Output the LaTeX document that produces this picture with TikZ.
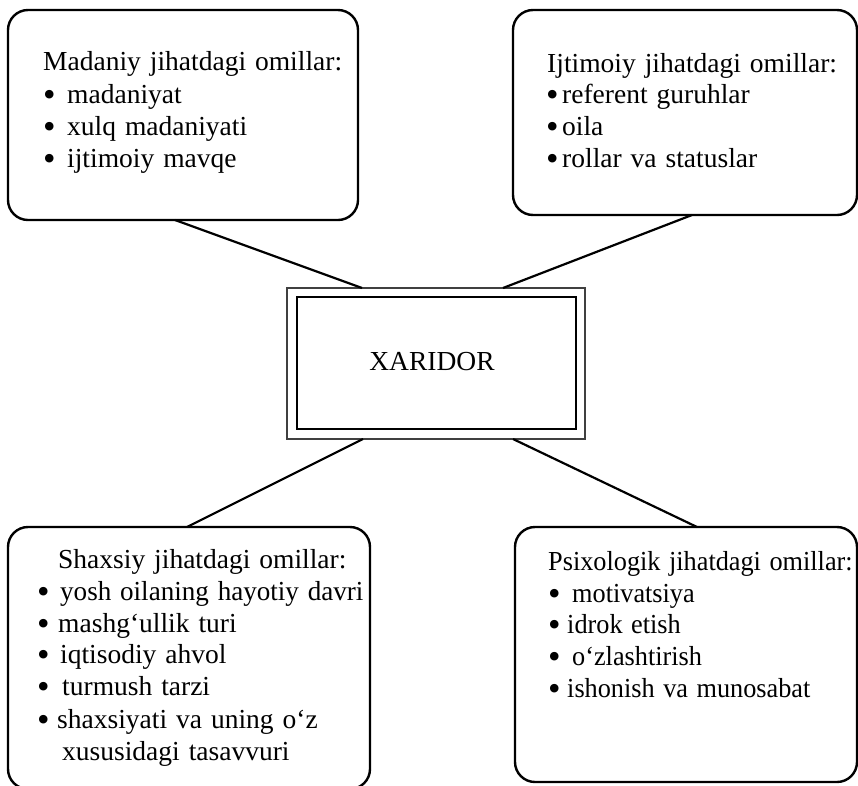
\documentclass[tikz,border=0pt]{standalone}
\usepackage{graphicx}
\usepackage{fontspec}
\setmainfont[WordSpace=1.3]{Liberation Serif}
\newcommand{\bul}[2]{\hspace*{#1}\makebox[#2][l]{\raisebox{-3.2pt}[12pt][0pt]{\fontsize{35.75}{36}\selectfont\textbullet}}}
\newcommand{\sq}[1]{\scalebox{0.955}[1]{#1}}
\begin{document}
\begin{tikzpicture}[x=1pt,y=-1pt,
  box/.style={draw,line width=2.4pt,rounded corners=20pt,anchor=north west,inner sep=0pt,outer sep=0pt},
  cbox/.style={draw,line width=1.3pt,anchor=north west,inner sep=0pt,outer sep=0pt},
  txt/.style={anchor=base west,inner sep=0pt,font=\fontsize{27.5}{33}\selectfont},
  conn/.style={line width=2.2pt}]
\useasboundingbox (0,0) rectangle (858,785);
% boxes
\node[box,minimum width=350pt,minimum height=210pt] (tl) at (8,10) {};
\node[box,minimum width=344pt,minimum height=205pt] (tr) at (513,10) {};
\node[box,minimum width=362pt,minimum height=262pt] (bl) at (8,527) {};
\node[box,minimum width=342pt,minimum height=255pt] (br) at (515,527) {};
\node[cbox,draw=black!75,minimum width=298pt,minimum height=151pt] (c) at (287,288) {};
\node[cbox,minimum width=279pt,minimum height=132pt] (ci) at (297,297) {};
\node[txt,anchor=base] (x) at (432,370) {XARIDOR};
% top-left text
\node[txt] (tl1) at (43,70) {Madaniy jihatdagi omillar:};
\node[txt] (tl2) at (43,103) {\bul{0pt}{24pt}madaniyat};
\node[txt] (tl3) at (43,135) {\bul{0pt}{24pt}xulq madaniyati};
\node[txt] (tl4) at (43,167) {\bul{0pt}{24pt}ijtimoiy mavqe};
% top-right text
\node[txt] (tr1) at (547,72) {Ijtimoiy jihatdagi omillar:};
\node[txt] (tr2) at (546,103) {\bul{0pt}{16pt}referent guruhlar};
\node[txt] (tr3) at (546,135) {\bul{0pt}{16pt}oila};
\node[txt] (tr4) at (546,167) {\bul{0pt}{16pt}rollar va statuslar};
% bottom-left text
\node[txt] (bl1) at (58,568) {Shaxsiy jihatdagi omillar:};
\node[txt] (bl2) at (37,600) {\bul{0pt}{23pt}\scalebox{0.985}[1]{yosh oilaning hayotiy davri}};
\node[txt] (bl3) at (37,632) {\bul{0pt}{21pt}mashg‘ullik turi};
\node[txt] (bl4) at (37,663) {\bul{0pt}{23pt}iqtisodiy ahvol};
\node[txt] (bl5) at (37,695) {\bul{0pt}{25pt}turmush tarzi};
\node[txt] (bl6) at (37,728) {\bul{0pt}{20pt}shaxsiyati va uning o‘z};
\node[txt] (bl7) at (62,760) {xususidagi tasavvuri};
% bottom-right text
\node[txt] (br1) at (548,570) {\sq{Psixologik jihatdagi omillar:}};
\node[txt] (br2) at (548,602) {\bul{0pt}{24pt}\sq{motivatsiya}};
\node[txt] (br3) at (548,633) {\bul{0pt}{19pt}\sq{idrok etish}};
\node[txt] (br4) at (548,665) {\bul{0pt}{24pt}\sq{o‘zlashtirish}};
\node[txt] (br5) at (548,697) {\bul{0pt}{19pt}\sq{ishonish va munosabat}};
% connectors
\draw[conn] ([xshift=167pt]tl.south west) -- ([xshift=75pt]c.north west);
\draw[conn] ([xshift=179pt]tr.south west) -- ([xshift=216pt]c.north west);
\draw[conn] ([xshift=76pt]c.south west) -- ([xshift=179pt]bl.north west);
\draw[conn] ([xshift=226pt]c.south west) -- ([xshift=182pt]br.north west);
\end{tikzpicture}
\end{document}
